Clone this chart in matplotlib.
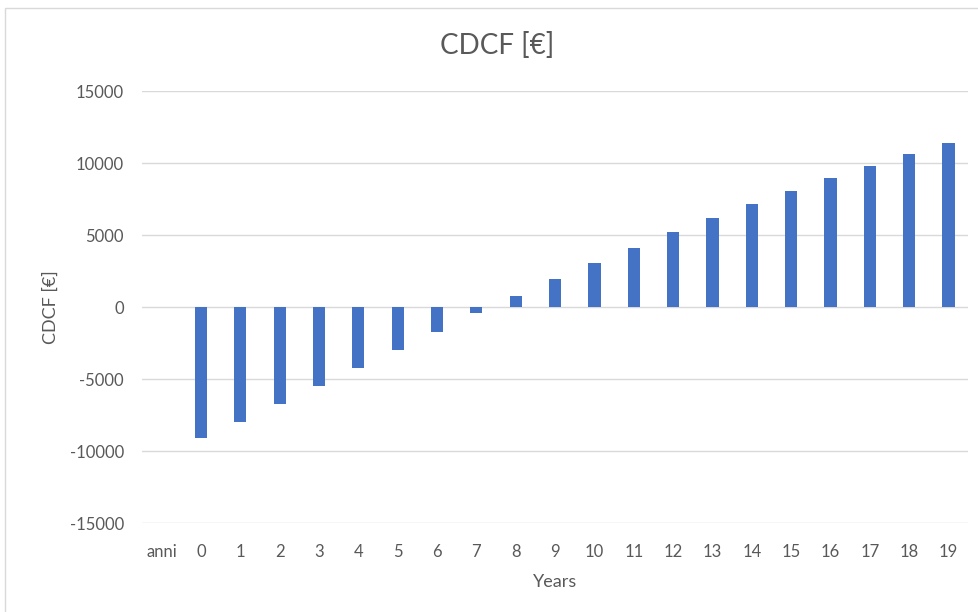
import matplotlib
matplotlib.use("Agg")
import matplotlib.pyplot as plt
from matplotlib.patches import Rectangle

plt.rcParams['font.family'] = ['Lato', 'DejaVu Sans']

# data
categories = ['anni'] + [str(i) for i in range(20)]
cdcf = [None, -9100, -7960, -6760, -5510, -4260, -2960, -1710, -440, 790,
        1930, 3040, 4130, 5200, 6170, 7150, 8050, 8960, 9810, 10620, 11430]
yticks = [-15000, -10000, -5000, 0, 5000, 10000, 15000]

text_col = '#595959'
bar_col = '#4472C4'
grid_col = '#D9D9D9'

fig = plt.figure(figsize=(9.79, 6.12), dpi=100)
# chart border like the Excel chart area
fig.patches.append(Rectangle((5 / 979, -0.01), 1.0, 1 - 8 / 612 + 0.01,
                             transform=fig.transFigure, fill=False,
                             edgecolor=grid_col, linewidth=1))

ax = fig.add_axes([0.145, 0.1454, 0.844, 0.7056])

xs = list(range(len(categories)))
vals = [v if v is not None else 0 for v in cdcf]
ax.bar(xs, vals, width=0.31, color=bar_col, zorder=3)

ax.set_xlim(-0.5, len(categories) - 0.5)
ax.set_ylim(-15000, 15000)
ax.set_yticks(yticks)
ax.set_yticklabels([str(t) for t in yticks])
ax.set_xticks(xs)
ax.set_xticklabels(categories)
ax.yaxis.grid(True, color=grid_col, linewidth=1, zorder=0)
ax.set_axisbelow(True)
for s in ax.spines.values():
    s.set_visible(False)
ax.tick_params(axis='both', length=0, labelsize=12, colors=text_col)
ax.tick_params(axis='y', pad=13)
ax.tick_params(axis='x', pad=15)

ax.set_xlabel('Years', fontsize=13, color=text_col, labelpad=10)
ax.set_ylabel('CDCF [€]', fontsize=13, color=text_col, labelpad=8)
fig.text(0.508, 0.925, 'CDCF [€]', ha='center', va='center',
         fontsize=20, color=text_col)

fig.savefig('out.png', dpi=100, facecolor='white')
